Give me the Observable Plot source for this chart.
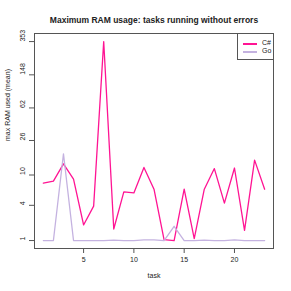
<!DOCTYPE html>
<html>
<head>
<meta charset="utf-8">
<script src="https://cdn.jsdelivr.net/npm/d3@7"></script>
<script src="https://cdn.jsdelivr.net/npm/@observablehq/plot@0.6"></script>
<style>
  html, body { margin: 0; padding: 0; background: white; }
  #wrap { position: relative; width: 291px; height: 291px; font-family: "Liberation Sans", Arial, sans-serif; }
  #legend { position: absolute; left: 237px; top: 33px; width: 35px; height: 25px; border: 1px solid #555; background: white; font-size: 7px; color: #222; }
  .row { position: absolute; left: 0; height: 8px; width: 35px; }
  .sw { position: absolute; left: 5px; top: 0; width: 14px; height: 1.5px; }
  .lab { position: absolute; left: 24px; top: -4px; line-height: 8px; }
</style>
</head>
<body>
<div id="wrap"></div>
<script>
const tasks = [1,2,3,4,5,6,7,8,9,10,11,12,13,14,15,16,17,18,19,20,21,22,23];
const csharp = [7.9, 8.4, 13.7, 8.9, 2.0, 3.9, 353, 1.7, 6.1, 5.9, 12.4, 6.6, 1.05, 1.0, 6.6, 1.1, 6.6, 12.0, 4.3, 12.2, 1.6, 15.2, 6.6];
const go = [1, 1, 18.1, 1, 1, 1, 1, 1.02, 1, 1, 1.03, 1.03, 1, 1.9, 1, 1, 1.02, 1, 1, 1.03, 1, 1, 1];
const seriesNames = ["C#", "Go"];
const seriesColors = ["#ff1493", "#c4b2e0"];
const yTicks = [1, 4, 10, 26, 62, 148, 353];
const yTickLabels = ["1", "4", "10", "26", "62", "148", "353"];
const xTicks = [5, 10, 15, 20];
const title = "Maximum RAM usage: tasks running without errors";
const xLabel = "task";
const yLabel = "max RAM used (mean)";

const csData = tasks.map((t, i) => ({task: t, v: csharp[i]}));
const goData = tasks.map((t, i) => ({task: t, v: go[i]}));

const chart = Plot.plot({
  width: 291,
  height: 291,
  marginLeft: 34,
  marginRight: 18,
  marginTop: 33,
  marginBottom: 43,
  style: { fontFamily: '"Liberation Sans", Arial, sans-serif', fontSize: "7px", background: "white", color: "#222" },
  x: { domain: [0.12, 23.88] },
  y: { type: "symlog", constant: 1, domain: [0.626, 435.7] },
  marks: [
    Plot.lineY(csData, { x: "task", y: "v", stroke: seriesColors[0], strokeWidth: 1.3 }),
    Plot.lineY(goData, { x: "task", y: "v", stroke: seriesColors[1], strokeWidth: 1.3 }),
    Plot.frame({ stroke: "#555" }),
    Plot.axisX({ ticks: xTicks, tickSize: 5, tickPadding: 4, label: null, stroke: "#555" }),
    Plot.axisY({ ticks: yTicks, tickSize: 5, tickFormat: () => "", label: null, stroke: "#555" }),
    Plot.text(yTicks, { y: d => d, text: (d, i) => yTickLabels[i], frameAnchor: "left", dx: -12, rotate: -90 }),
    Plot.text([xLabel], { text: d => d, frameAnchor: "bottom", dy: 29 }),
    Plot.text([yLabel], { text: d => d, frameAnchor: "left", dx: -27, rotate: -90 }),
    Plot.text([title], { text: d => d, frameAnchor: "top", dy: -17, fontWeight: "bold", fontSize: 8.5 })
  ]
});
const wrap = document.getElementById("wrap");
wrap.appendChild(chart);

const legend = document.createElement("div");
legend.id = "legend";
seriesNames.forEach((name, i) => {
  const row = document.createElement("div");
  row.className = "row";
  row.style.top = (9 + i * 8) + "px";
  const sw = document.createElement("div");
  sw.className = "sw";
  sw.style.backgroundColor = seriesColors[i];
  const lab = document.createElement("div");
  lab.className = "lab";
  lab.textContent = name;
  row.appendChild(sw);
  row.appendChild(lab);
  legend.appendChild(row);
});
wrap.appendChild(legend);
</script>
</body>
</html>
